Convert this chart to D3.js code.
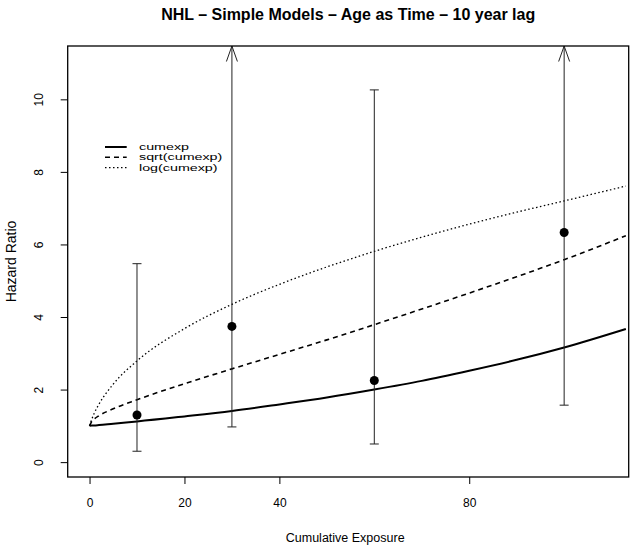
<!DOCTYPE html>
<html>
<head>
<meta charset="utf-8">
<script src="https://cdn.jsdelivr.net/npm/d3@7"></script>
<style>
  body { margin: 0; background: #fff; }
  text { font-family: "Liberation Sans", Arial, sans-serif; fill: #000; }
</style>
</head>
<body>
<svg id="chart"></svg>
<script>
// ---- data ----
const exposure = [10, 30, 60, 100];          // x of the estimates
const hazard = [1.30, 3.74, 2.25, 6.33];     // point estimates
const ciLower = [0.30, 0.97, 0.50, 1.57];
const ciUpper = [5.47, null, 10.26, null];   // null = runs off the top (arrow)

// fitted curves, sampled along cumulative exposure
const curveX = [0, 0.5, 1, 2, 5, 10, 20, 30, 40, 50, 60, 70, 80, 90, 100, 113];
const cumexpHR = [1.00, 1.01, 1.01, 1.02, 1.06, 1.12, 1.26, 1.41, 1.59, 1.78, 2.00, 2.24, 2.52, 2.82, 3.16, 3.67];
const sqrtHR = [1.00, 1.13, 1.19, 1.28, 1.47, 1.72, 2.16, 2.57, 2.97, 3.37, 3.79, 4.22, 4.66, 5.11, 5.58, 6.24];
const logHR = [1.00, 1.19, 1.35, 1.60, 2.15, 2.79, 3.68, 4.35, 4.90, 5.38, 5.81, 6.20, 6.56, 6.89, 7.20, 7.61];

const seriesNames = ["cumexp", "sqrt(cumexp)", "log(cumexp)"];
const xTicks = [0, 20, 40, 80];
const yTicks = [0, 2, 4, 6, 8, 10];

const width = 630, height = 548;
const pLeft = 67.7, pRight = 628.7, pTop = 46, pBottom = 477;

const svg = d3.select("#chart").attr("width", width).attr("height", height);

const x = d3.scaleLinear().domain([-4.6, 113.6]).range([pLeft, pRight]);
const y = d3.scaleLinear().domain([-0.41, 11.47]).range([pBottom, pTop]);

// title
svg.append("text")
    .attr("x", (pLeft + pRight) / 2)
    .attr("y", 19.5)
    .attr("text-anchor", "middle")
    .style("font-size", "16px")
    .style("font-weight", "bold")
    .text("NHL \u2013 Simple Models \u2013 Age as Time \u2013 10 year lag");

// axes
const xAxis = svg.append("g")
    .attr("transform", `translate(0,${pBottom})`)
    .call(d3.axisBottom(x).tickValues(xTicks).tickSize(7).tickPadding(14).tickFormat(d3.format("d")));
xAxis.select(".domain").remove();
xAxis.selectAll("text").style("font-size", "12px").style("font-family", "Liberation Sans, Arial, sans-serif");
xAxis.selectAll("line").attr("stroke", "#000");

const yAxis = svg.append("g")
    .attr("transform", `translate(${pLeft},0)`)
    .call(d3.axisLeft(y).tickValues(yTicks).tickSize(7).tickFormat(d3.format("d")));
yAxis.select(".domain").remove();
yAxis.selectAll("line").attr("stroke", "#000");
yAxis.selectAll("text")
    .attr("x", null).attr("dy", null)
    .attr("transform", "translate(-28.7,0) rotate(-90)")
    .attr("text-anchor", "middle")
    .attr("dominant-baseline", "central")
    .style("font-size", "12px")
    .style("font-family", "Liberation Sans, Arial, sans-serif");

// axis labels
svg.append("text")
    .attr("x", (pLeft + pRight) / 2 - 3)
    .attr("y", 542)
    .attr("text-anchor", "middle")
    .style("font-size", "12.5px")
    .text("Cumulative Exposure");

svg.append("text")
    .attr("transform", `translate(16,${(pTop + pBottom) / 2}) rotate(-90)`)
    .attr("text-anchor", "middle")
    .style("font-size", "14px")
    .text("Hazard Ratio");

// clip for the curves
svg.append("clipPath").attr("id", "plotclip")
    .append("rect")
    .attr("x", pLeft).attr("y", pTop)
    .attr("width", pRight - pLeft).attr("height", pBottom - pTop);

const styles = [
    { w: 2, dash: null },
    { w: 1.6, dash: "5,4" },
    { w: 1.3, dash: "1.5,2.5" }
];
const curveSeries = [cumexpHR, sqrtHR, logHR];

const line = d3.line()
    .x(d => x(d[0]))
    .y(d => y(d[1]))
    .curve(d3.curveMonotoneX);

const curves = svg.append("g").attr("clip-path", "url(#plotclip)");
curveSeries.forEach((vals, i) => {
    curves.append("path")
        .datum(curveX.map((cx, j) => [cx, vals[j]]))
        .attr("d", line)
        .attr("fill", "none")
        .attr("stroke", "#000")
        .attr("stroke-width", styles[i].w)
        .attr("stroke-dasharray", styles[i].dash);
});

// error bars
const capW = 4.5;
const bars = svg.append("g").attr("stroke", "#222").attr("stroke-width", 1).attr("fill", "none");
exposure.forEach((ex, i) => {
    const cx = x(ex);
    const yLo = y(ciLower[i]);
    const yHi = ciUpper[i] == null ? pTop : y(ciUpper[i]);
    bars.append("line").attr("x1", cx).attr("x2", cx).attr("y1", yLo).attr("y2", yHi);
    bars.append("line").attr("x1", cx - capW).attr("x2", cx + capW).attr("y1", yLo).attr("y2", yLo);
    if (ciUpper[i] == null) {
        bars.append("polyline")
            .attr("points", `${cx - 5.5},${pTop + 15.5} ${cx},${pTop} ${cx + 5.5},${pTop + 15.5}`);
    } else {
        bars.append("line").attr("x1", cx - capW).attr("x2", cx + capW).attr("y1", yHi).attr("y2", yHi);
    }
});

// point estimates
svg.append("g").selectAll("circle")
    .data(exposure)
    .join("circle")
    .attr("cx", d => x(d))
    .attr("cy", (d, i) => y(hazard[i]))
    .attr("r", 4.5)
    .attr("fill", "#000");

// legend (text is squat and wide in the original)
const legend = svg.append("g");
const legY = [147, 157.3, 167.6];
seriesNames.forEach((name, i) => {
    legend.append("line")
        .attr("x1", 105).attr("x2", 126.7)
        .attr("y1", legY[i]).attr("y2", legY[i])
        .attr("stroke", "#000")
        .attr("stroke-width", styles[i].w)
        .attr("stroke-dasharray", styles[i].dash);
    legend.append("text")
        .attr("transform", `translate(139,${legY[i]}) scale(1.1,0.7)`)
        .attr("dominant-baseline", "central")
        .style("font-size", "13px")
        .text(name);
});

// plot box
svg.append("rect")
    .attr("x", pLeft).attr("y", pTop)
    .attr("width", pRight - pLeft).attr("height", pBottom - pTop)
    .attr("fill", "none")
    .attr("stroke", "#000")
    .attr("stroke-width", 1.3);
</script>
</body>
</html>
